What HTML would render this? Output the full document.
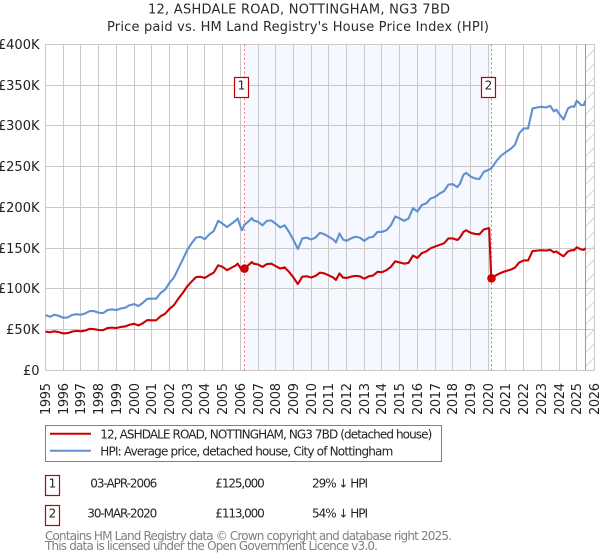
<!DOCTYPE html>
<html lang="en">
<head>
<meta charset="utf-8">
<title>12, ASHDALE ROAD, NOTTINGHAM, NG3 7BD</title>
<style>
html,body{margin:0;padding:0;background:#fff;width:600px;height:560px;overflow:hidden}
svg{display:block;font-family:"DejaVu Sans","Liberation Sans",sans-serif}
</style>
</head>
<body>
<svg id="chart" xmlns="http://www.w3.org/2000/svg" width="600" height="560" viewBox="0 0 600 560">
  <defs>
    <pattern id="hatch" patternUnits="userSpaceOnUse" width="14" height="14">
      <line x1="0" y1="14" x2="14" y2="0" stroke="#d4d4d4" stroke-width="1"/>
    </pattern>
  </defs>
  <text x="299" y="13.5" font-size="13" text-anchor="middle" textLength="302" fill="#2a2a2a">12, ASHDALE ROAD, NOTTINGHAM, NG3 7BD</text>
  <text x="298" y="31" font-size="13" text-anchor="middle" textLength="382" fill="#2a2a2a">Price paid vs. HM Land Registry's House Price Index (HPI)</text>
  <g id="plot"></g>

  <g>
    <rect x="45.5" y="425.5" width="396" height="36" fill="#fff" stroke="#808080" stroke-width="1"/>
    <line x1="50" y1="433.7" x2="91" y2="433.7" stroke="#cc0000" stroke-width="2"/>
    <text x="100.3" y="438.3" font-size="12" textLength="332" fill="#222">12, ASHDALE ROAD, NOTTINGHAM, NG3 7BD (detached house)</text>
    <line x1="50" y1="450.7" x2="91" y2="450.7" stroke="#6090d0" stroke-width="2"/>
    <text x="100.3" y="455.4" font-size="12" textLength="293" fill="#222">HPI: Average price, detached house, City of Nottingham</text>
  </g>

  <g font-size="12" fill="#222">
    <rect x="45.5" y="475.5" width="14" height="20" fill="#fff" stroke="#c00000" stroke-width="1.2"/>
    <text x="52.5" y="487.3" text-anchor="middle">1</text>
    <text x="90.3" y="487.3" textLength="67">03-APR-2006</text>
    <text x="215.3" y="487.3" textLength="49.5">£125,000</text>
    <text x="312" y="487.3" textLength="56">29% ↓ HPI</text>
  </g>
  <g font-size="12" fill="#222">
    <rect x="45.5" y="505.5" width="14" height="20" fill="#fff" stroke="#c00000" stroke-width="1.2"/>
    <text x="52.5" y="517.3" text-anchor="middle">2</text>
    <text x="87.3" y="517.3" textLength="70">30-MAR-2020</text>
    <text x="215.3" y="517.3" textLength="49.5">£113,000</text>
    <text x="312" y="517.3" textLength="56">54% ↓ HPI</text>
  </g>

  <text x="45" y="540" font-size="12" fill="#808080" textLength="407">Contains HM Land Registry data © Crown copyright and database right 2025.</text>
  <text x="45" y="550" font-size="12" fill="#808080" textLength="333">This data is licensed under the Open Government Licence v3.0.</text>
</svg>
<script>
// Chart data (values in £ thousand, dates in decimal years)
const xTickYears = [1995,1996,1997,1998,1999,2000,2001,2002,2003,2004,2005,2006,2007,2008,2009,2010,2011,2012,2013,2014,2015,2016,2017,2018,2019,2020,2021,2022,2023,2024,2025,2026];
const yTickValues = [0,50,100,150,200,250,300,350,400];
const yTickLabels = ['£0','£50K','£100K','£150K','£200K','£250K','£300K','£350K','£400K'];
const dates = [
1995,1995.25,1995.5,1995.75,1996,1996.25,1996.5,1996.75,1997,1997.25,1997.5,1997.75,
1998,1998.25,1998.5,1998.75,1999,1999.25,1999.5,1999.75,2000,2000.25,2000.5,2000.75,
2001,2001.25,2001.5,2001.75,2002,2002.25,2002.5,2002.75,2003,2003.25,2003.5,2003.75,
2004,2004.25,2004.5,2004.75,2005,2005.25,2005.5,2005.75,2005.85,2006,2006.1,2006.23,
2006.5,2006.65,2006.75,2007,2007.25,2007.5,2007.75,2008,2008.25,2008.5,2008.75,2009,
2009.25,2009.5,2009.75,2010,2010.25,2010.5,2010.75,2011,2011.25,2011.4,2011.6,2011.8,
2012,2012.25,2012.5,2012.75,2013,2013.25,2013.5,2013.75,2014,2014.25,2014.5,2014.75,
2015,2015.25,2015.5,2015.75,2016,2016.25,2016.5,2016.75,2017,2017.25,2017.5,2017.75,
2018,2018.25,2018.4,2018.6,2018.75,2019,2019.25,2019.5,2019.75,2020,2020.05,2020.17,
2020.5,2020.75,2021,2021.25,2021.5,2021.75,2022,2022.25,2022.5,2022.75,2023,2023.25,
2023.5,2023.7,2023.85,2024,2024.25,2024.5,2024.7,2024.85,2025,2025.25,2025.4,2025.48];
const hpiValues = [
67.9,65.8,68.3,67,64.6,65,68,69,68.3,70,72.8,72.8,
70.8,70.3,74,75,74,76,77,80,81.4,79,83,88,
88,88,95,99,107.5,114,125,136,147.6,156,163,164,
161,167,171,183.6,180,176,180,184,186.5,177,172,178.7,
183.6,187,184,182.4,178,183.6,184,180,175.5,178,170,160,
149,162,163,160.7,163,169,167,164,160.7,157,168,160.7,
159,162,164,163,159,163,164,170,170,172,178,189,
186.5,183.6,186.5,199,195,203,205,211,213,217,220,228,
228.6,225,229,240,242.5,238,235.6,234.8,243.8,246,246.5,248,
258,264,268,271.6,276.5,291,297,297,321.5,322.7,323.5,322.7,
324.7,318,320,315,308,321.5,324,323.5,331,325.6,325.6,331];
const priceValues = [
47.5,46.8,48,47,45.4,45.8,47.6,48.5,48,49,51,50.6,
49.6,49.4,52,52.5,52,53.3,54,56,57.2,55.2,58,61.8,
61.5,61.5,66.5,69.5,75.5,80,88,95,103,109,114.5,115,
113.5,117,120,129,127,123,126,129,131,126,122,125,
130,133,131,130,127,130.5,131,128,125,126.5,121,114,
106,115,115.5,114,116,120,119,116.5,114,111,119,114,
113.5,115,116,115.5,112.5,115.5,116.5,121,120.5,123,127,134,
132.5,131,132,141,138,144,146,150,152,154,156,162,
162,160,163,170,172,169,167.5,167,173,174.5,174.5,113,
117.5,120,122,123.5,126,132.5,135,135,146.5,147,147.5,147,
148,145,146,143.5,140,146,147.5,147.5,151,148.5,148,150];
const saleDates = [2006.23,2020.17];
const salePrices = [125,113];
const saleLabels = ['1','2'];
const lastDataDate = 2025.48;

const NS = 'http://www.w3.org/2000/svg';
const plot = document.getElementById('plot');
const xScale = function (d) { return 45.5 + (d - 1995) * 17.7097; };
const yScale = function (v) { return 370.4 - v * 0.81475; };
const snap = function (p) { return Math.floor(p) + 0.5; };
const plotTop = snap(yScale(400));
const plotBottom = snap(yScale(0));
const plotLeft = snap(xScale(1995));
const plotRight = snap(xScale(2026));

function make(tag, props, parent) {
  const el = document.createElementNS(NS, tag);
  for (const k in props) el.setAttribute(k, props[k]);
  (parent || plot).appendChild(el);
  return el;
}

// Shaded period between sales
const shade = make('rect', {x: snap(xScale(saleDates[0])), y: plotTop, width: snap(xScale(saleDates[1])) - snap(xScale(saleDates[0])), height: plotBottom - plotTop, fill: '#f5f8ff'});



// Horizontal gridlines and y labels
yTickValues.forEach(function (v, i) {
  const y = snap(yScale(v));
  const g = make('line', {x1: plotLeft, x2: plotRight, y1: y, y2: y, stroke: '#c9c9c9', 'stroke-width': 1});
  
  
  const t = make('text', {x: 39.5, y: y + 4.5, 'font-size': 13, 'text-anchor': 'end', fill: '#222'});
  
  
  t.textContent = yTickLabels[i];
});

// Vertical gridlines and x labels
xTickYears.forEach(function (yr) {
  const x = snap(xScale(yr));
  const g = make('line', {x1: x, x2: x, y1: plotTop, y2: plotBottom, stroke: '#c9c9c9', 'stroke-width': 1});
  
  
  const t = make('text', {transform: 'translate(' + (x + 4.5) + ',383) rotate(-90)', 'font-size': 13, 'text-anchor': 'end', textLength: 32, fill: '#222'});
  
  
  t.textContent = yr;
});

// Hatched no-data region
const hatchX = snap(xScale(lastDataDate));
const hatch = make('rect', {x: hatchX, y: plotTop, width: plotRight - hatchX, height: plotBottom - plotTop, fill: 'url(#hatch)'});


const edge = make('line', {x1: hatchX, x2: hatchX, y1: plotTop, y2: plotBottom, stroke: '#999', 'stroke-width': 1});



// Sale date markers (dotted)
saleDates.forEach(function (d) {
  const x = snap(xScale(d));
  const l = make('line', {x1: x, x2: x, y1: plotTop, y2: plotBottom, stroke: '#ff0000', 'stroke-opacity': 0.55, 'stroke-width': 1, 'stroke-dasharray': '2 2.5'});
  
  
});

function seriesPath(values) {
  return values.map(function (v, i) {
    return (i ? 'L' : 'M') + xScale(dates[i]).toFixed(2) + ' ' + yScale(v).toFixed(2);
  }).join(' ');
}

const hpiLine = make('path', {d: seriesPath(hpiValues), fill: 'none', stroke: '#6090d0', 'stroke-width': 2.1, 'stroke-linejoin': 'round'});



const priceLine = make('path', {d: seriesPath(priceValues), fill: 'none', stroke: '#cc0000', 'stroke-width': 2.1, 'stroke-linejoin': 'round'});



saleDates.forEach(function (d, i) {
  const x = snap(xScale(d));
  const dot = make('circle', {cx: x, cy: yScale(salePrices[i]), r: 4.3, fill: '#cc0000'});
  
  
  const box = make('rect', {x: x - 10, y: 77.5, width: 14, height: 20, fill: '#fff', stroke: '#c00000', 'stroke-width': 1.2});
  
  
  const t = make('text', {x: x - 3, y: 89.3, 'font-size': 12, 'text-anchor': 'middle', fill: '#222'});
  
  
  t.textContent = saleLabels[i];
});
</script>
</body>
</html>
